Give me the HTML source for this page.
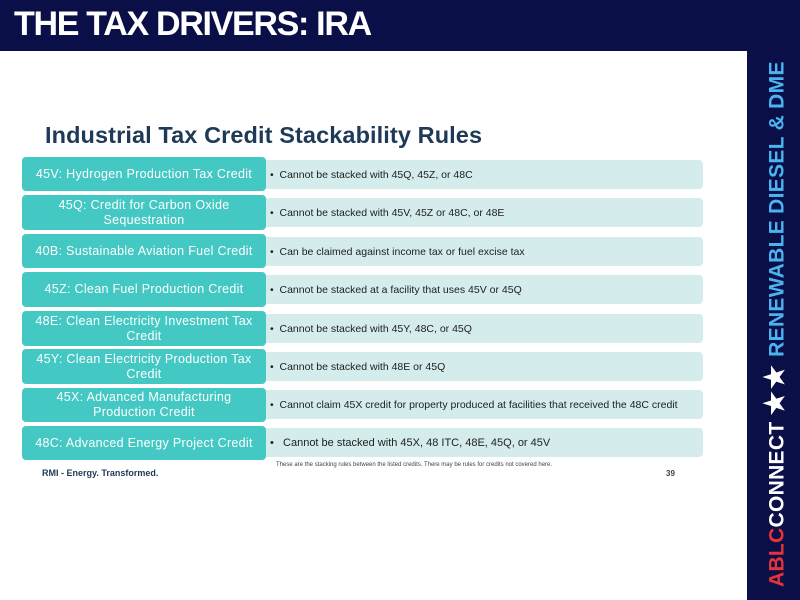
<!DOCTYPE html>
<html><head><style>
body{margin:0;width:800px;height:600px;position:relative;overflow:hidden;background:#fff;font-family:"Liberation Sans",sans-serif}
.hdr{position:absolute;left:0;top:0;width:800px;height:51px;background:#0a0f47}
.hdr span{position:absolute;left:14px;top:5px;color:#fff;font-weight:bold;font-size:34px;letter-spacing:-1.3px;white-space:nowrap}
.side{position:absolute;left:747px;top:0;width:53px;height:600px;background:#0a0f47}
.vt{position:absolute;left:775px;white-space:nowrap;font-weight:bold;font-size:21px;transform-origin:0 0;transform:rotate(-90deg) translateY(-50%);letter-spacing:0.3px}
.title{position:absolute;left:45px;top:122px;font-size:23.5px;font-weight:bold;color:#1e3a56;letter-spacing:0.1px}
.l{position:absolute;left:22px;width:244px;background:#43c8c4;border-radius:4px;color:#fff;font-size:12.5px;text-align:center;display:flex;align-items:center;justify-content:center;line-height:15px;letter-spacing:0.3px}
.r{position:absolute;left:266px;width:437px;background:#d4ecec;border-radius:0 4px 4px 0;color:#222;font-size:10.5px;display:flex;align-items:center;padding-left:4px;box-sizing:border-box}
.small{position:absolute;font-size:6px;color:#444}
</style></head><body>
<div class="hdr"><span>THE TAX DRIVERS: IRA</span></div>
<div class="side"></div>
<div class="vt" style="top:587px;color:#fff"><span style="color:#e8323a">ABLC</span>CONNECT <span style="font-size:27px;letter-spacing:2px">★★</span> <span style="color:#4ab3f0">RENEWABLE DIESEL &amp; DME</span></div>
<div class="title">Industrial Tax Credit Stackability Rules</div>

<div class="l" style="top:157px;height:34px">45V: Hydrogen Production Tax Credit</div>
<div class="r" style="top:160px;height:29px">• &nbsp;Cannot be stacked with 45Q, 45Z, or 48C</div>
<div class="l" style="top:195px;height:35px">45Q: Credit for Carbon Oxide<br>Sequestration</div>
<div class="r" style="top:198px;height:29px">• &nbsp;Cannot be stacked with 45V, 45Z or 48C, or 48E</div>
<div class="l" style="top:234px;height:34px">40B: Sustainable Aviation Fuel Credit</div>
<div class="r" style="top:237px;height:29px">• &nbsp;Can be claimed against income tax or fuel excise tax</div>
<div class="l" style="top:272px;height:35px">45Z: Clean Fuel Production Credit</div>
<div class="r" style="top:275px;height:29px">• &nbsp;Cannot be stacked at a facility that uses 45V or 45Q</div>
<div class="l" style="top:311px;height:35px">48E: Clean Electricity Investment Tax<br>Credit</div>
<div class="r" style="top:314px;height:29px">• &nbsp;Cannot be stacked with 45Y, 48C, or 45Q</div>
<div class="l" style="top:349px;height:35px">45Y: Clean Electricity Production Tax<br>Credit</div>
<div class="r" style="top:352px;height:29px">• &nbsp;Cannot be stacked with 48E or 45Q</div>
<div class="l" style="top:388px;height:34px">45X: Advanced Manufacturing<br>Production Credit</div>
<div class="r" style="top:390px;height:29px">• &nbsp;Cannot claim 45X credit for property produced at facilities that received the 48C credit</div>
<div class="l" style="top:426px;height:34px">48C: Advanced Energy Project Credit</div>
<div class="r" style="top:428px;height:29px;font-size:11px">• &nbsp;&nbsp;Cannot be stacked with 45X, 48 ITC, 48E, 45Q, or 45V</div>
<div class="small" style="left:276px;top:462px">These are the stacking rules between the listed credits. There may be rules for credits not covered here.</div>
<div style="position:absolute;left:42px;top:468px;font-size:9px;font-weight:bold;color:#1e3a56">RMI - Energy. Transformed.</div>
<div style="position:absolute;left:666px;top:469px;font-size:8px;font-weight:bold;color:#444">39</div>
</body></html>
